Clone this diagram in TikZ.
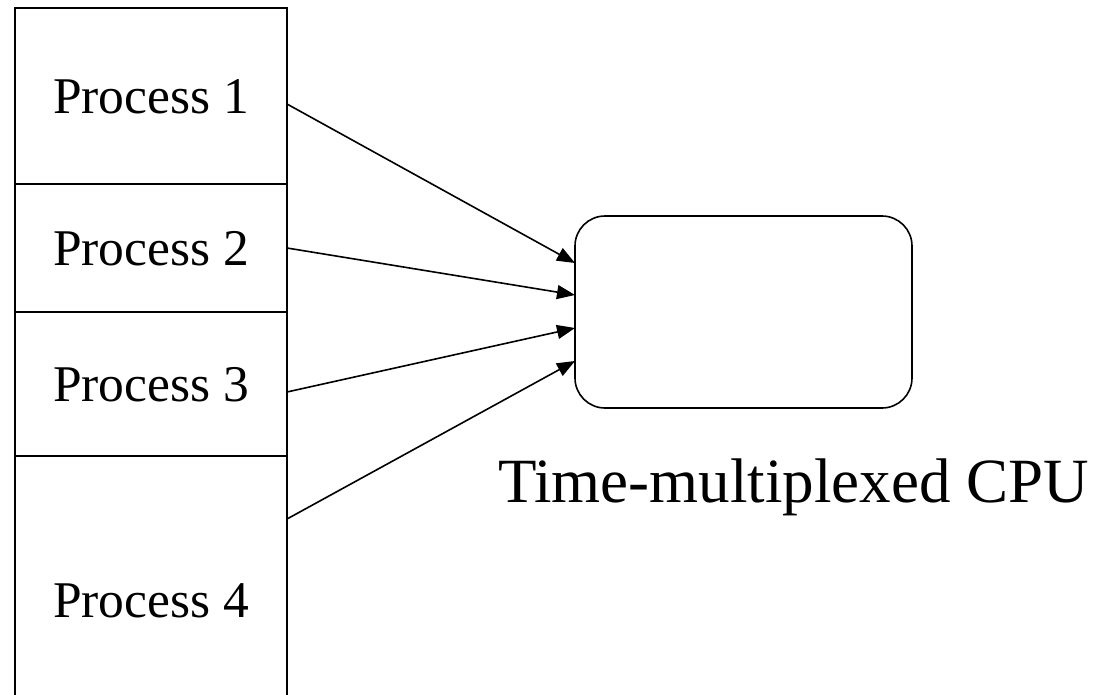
\documentclass[tikz,border=0pt]{standalone}
\usepackage{fontspec}
\newfontfamily\tnr{Liberation Serif}
\usetikzlibrary{arrows.meta,calc}
\begin{document}
\begin{tikzpicture}[x=1pt,y=-1pt,
  line width=1.6pt,
  cell/.style={draw,rectangle,minimum width=272pt,inner sep=0pt,outer sep=0pt,
    font=\tnr\fontsize{51.5}{58}\selectfont,text height=34pt,text depth=0pt},
  cpubox/.style={draw,rectangle,rounded corners=30pt,minimum width=337pt,
    minimum height=192pt,inner sep=0pt,outer sep=0pt},
  caption/.style={font=\tnr\fontsize{63}{70}\selectfont,anchor=base,inner sep=0pt},
  feed/.style={-{Triangle[length=18pt,width=14pt]}}]
\useasboundingbox (0,0) rectangle (1101,694);
\begin{scope}
\clip (0,0) rectangle (1101,694);
% process table, one stacked cell per process
\node[cell,minimum height=176pt] (p1) at (151,96) {Process 1};
\node[cell,minimum height=128pt] (p2) at (151,248) {Process 2};
\node[cell,minimum height=144pt] (p3) at (151,384) {Process 3};
\node[cell,minimum height=288pt] (p4) at (151,600) {Process 4};
\end{scope}
% the shared processor
\node[cpubox] (cpu) at (743.5,312) {};
\node[caption] (cpulabel) at (793.5,502) {Time-multiplexed CPU};
% each process feeds the CPU
\draw[feed] ([yshift=-8pt]p1.east) -- ([yshift=49pt]cpu.west);
\draw[feed] (p2.east) -- ([yshift=17pt]cpu.west);
\draw[feed] ([yshift=-8pt]p3.east) -- ([yshift=-16pt]cpu.west);
\draw[feed] ([yshift=81pt]p4.east) -- ([yshift=-49pt]cpu.west);
\end{tikzpicture}
\end{document}
